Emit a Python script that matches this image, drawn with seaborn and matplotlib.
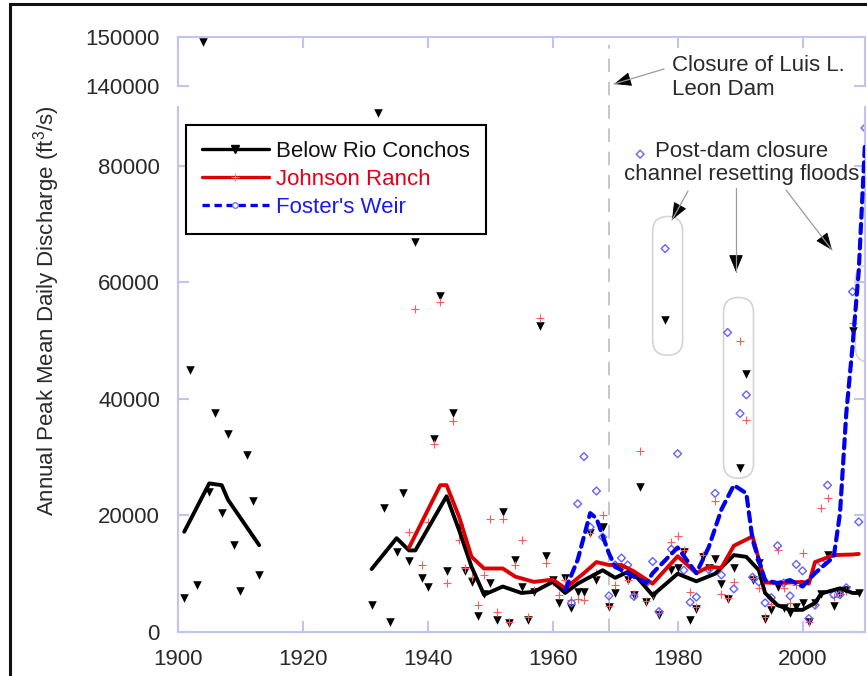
import numpy as np
import pandas as pd
import matplotlib
matplotlib.use("Agg")
import matplotlib.pyplot as plt
import seaborn as sns
from matplotlib.lines import Line2D
from matplotlib.patches import FancyBboxPatch, Rectangle, FancyArrowPatch

# ---------------- data ----------------
series_names = ["Below Rio Conchos", "Johnson Ranch", "Foster's Weir"]

conchos_years = [1901, 1902, 1903, 1904, 1905, 1906, 1907, 1908, 1909, 1910, 1911, 1912, 1913,
                 1931, 1932, 1933, 1934, 1935, 1936, 1937, 1938, 1939, 1940, 1941, 1942, 1943, 1944,
                 1945, 1946, 1947, 1948, 1949, 1950, 1951, 1952, 1953, 1954, 1955, 1956, 1957, 1958,
                 1959, 1960, 1961, 1962, 1963, 1964, 1965, 1966, 1967, 1968, 1969, 1970, 1971, 1972,
                 1973, 1974, 1975, 1976, 1977, 1978, 1979, 1980, 1981, 1982, 1983, 1984, 1985, 1986,
                 1987, 1988, 1989, 1990, 1991, 1992, 1993, 1994, 1995, 1996, 1997, 1998, 1999, 2000,
                 2001, 2002, 2003, 2004, 2005, 2006, 2007, 2008, 2009]
conchos_peaks = [5800, 45000, 8000, 149000, 24000, 37500, 20500, 34000, 15000, 7000, 30300, 22500, 9800,
                 4600, 89000, 21200, 1800, 13800, 23800, 12100, 67000, 9200, 7700, 33100, 57700, 10500, 37600,
                 17800, 10500, 8500, 2700, 6600, 8400, 2100, 20600, 1500, 12400, 7800, 2100, 6900, 52500,
                 13100, 9000, 4900, 9200, 4100, 6900, 6900, 17000, 9000, 18100, 4300, 6700, 10800, 8900,
                 6400, 24900, 5100, 6100, 2900, 53600, 10700, 10900, 13800, 2100, 3900, 12900, 11000, 12500,
                 8300, 5600, 10900, 28100, 44300, 8900, 11900, 2300, 3800, 7700, 4100, 3200, 4300, 5000,
                 1700, 4900, 6500, 13300, 4400, 6500, 7200, 51600, 6700]

johnson_years = [1937, 1938, 1939, 1940, 1941, 1942, 1943, 1944, 1945, 1946, 1947, 1948, 1949, 1950,
                 1951, 1952, 1953, 1954, 1955, 1956, 1957, 1958, 1959, 1960, 1961, 1962, 1963, 1964,
                 1965, 1966, 1967, 1968, 1969, 1970, 1971, 1972, 1973, 1974, 1975, 1976, 1977, 1979,
                 1980, 1981, 1982, 1983, 1984, 1985, 1986, 1987, 1988, 1989, 1990, 1991, 1992, 1993,
                 1994, 1995, 1996, 1997, 1998, 1999, 2000, 2001, 2002, 2003, 2004, 2005, 2006, 2007, 2008]
johnson_peaks = [17100, 55400, 11500, 18800, 32300, 56700, 8400, 36200, 15800, 11000, 9500, 4600, 9800, 19400,
                 3500, 19400, 1800, 11500, 15800, 2500, 7200, 53900, 11800, 8500, 6400, 9000, 5500, 5600,
                 5500, 17000, 10100, 20100, 4500, 8000, 10900, 9000, 6500, 31000, 5400, 6500, 3300, 15500,
                 16500, 14000, 6900, 4300, 13200, 11000, 22400, 6600, 5800, 8500, 49900, 36400, 9200, 7500,
                 2500, 4800, 14000, 7500, 5000, 8000, 13500, 1800, 4800, 21200, 23000, 6000, 6500, 7000, 53000]

foster_years = [1962, 1963, 1964, 1965, 1966, 1967, 1968, 1969, 1970, 1971, 1972, 1973, 1974, 1975,
                1976, 1977, 1978, 1979, 1980, 1981, 1982, 1983, 1985, 1986, 1987, 1988, 1989, 1990,
                1991, 1992, 1993, 1994, 1995, 1996, 1997, 1998, 1999, 2000, 2001, 2002, 2003, 2004,
                2005, 2006, 2007, 2008, 2009, 2010]
foster_peaks = [7200, 5000, 22000, 30100, 18000, 24200, 16300, 6200, 11500, 12700, 11500, 6100, 82000, 8400,
                12100, 3500, 65800, 14200, 30600, 10600, 5100, 6000, 10700, 23800, 9800, 51400, 7400, 37500,
                40700, 9400, 8600, 5000, 5900, 14800, 8400, 6200, 11600, 10500, 2300, 4600, 11900, 25200,
                6400, 6400, 7600, 58400, 18900, 86500]

# smoothed trend lines (vertices)
conchos_trend_a_years = [1901, 1905, 1907, 1908, 1913]
conchos_trend_a = [17200, 25500, 25200, 22700, 14900]
conchos_trend_b_years = [1931, 1935, 1937, 1938, 1943, 1945, 1947, 1949, 1952, 1955, 1957, 1960, 1962,
                         1964, 1968, 1970, 1972, 1973, 1976, 1980, 1983, 1986, 1989, 1991, 1993, 1994,
                         1996, 1998, 2000, 2002, 2003, 2006, 2008, 2009]
conchos_trend_b = [10800, 16100, 14000, 14000, 23300, 17500, 11200, 6400, 7800, 6700, 6900, 8600, 6700,
                   8300, 10600, 9300, 10300, 10000, 6300, 10000, 8700, 10000, 13200, 12900, 10600, 6700,
                   4600, 3800, 3800, 5000, 6600, 7500, 6700, 6700]
johnson_trend_years = [1937, 1942, 1943, 1945, 1947, 1949, 1952, 1954, 1957, 1960, 1962, 1965, 1967,
                       1969, 1971, 1973, 1976, 1980, 1983, 1985, 1987, 1989, 1992, 1994, 1996, 2000,
                       2001, 2002, 2005, 2008, 2009]
johnson_trend = [14500, 25200, 25200, 19800, 12900, 10900, 10900, 9500, 8600, 9000, 7500, 10100, 12000,
                 11500, 11500, 10400, 8300, 13000, 10100, 11200, 11000, 14800, 16400, 8500, 8400, 8600,
                 8300, 12000, 13200, 13300, 13400]
foster_trend_years = [1962, 1964, 1966, 1967, 1969, 1970, 1973, 1975, 1976, 1980, 1983, 1985, 1987,
                      1989, 1991, 1992, 1994, 1996, 1998, 2000, 2002, 2005, 2006, 2007, 2008, 2009, 2010]
foster_trend = [7200, 12400, 20400, 19500, 13500, 11200, 9500, 8400, 10100, 14500, 10100, 14600, 21000,
                25200, 23800, 15800, 8900, 8400, 8900, 7800, 10100, 12900, 20400, 37500, 49000, 62000, 84000]

x_ticks = [1900, 1920, 1940, 1960, 1980, 2000]
x_tick_labels = ["1900", "1920", "1940", "1960", "1980", "2000"]
y_ticks_low = [0, 20000, 40000, 60000, 80000]
y_tick_labels_low = ["0", "20000", "40000", "60000", "80000"]
y_ticks_high = [140000, 150000]
y_tick_labels_high = ["140000", "150000"]
dam_closure_year = 1969
y_label = "Annual Peak Mean Daily Discharge (ft$^3$/s)"

# ---------------- style ----------------
sns.set_theme(style="white")
plt.rcParams["font.family"] = ["Liberation Sans", "DejaVu Sans"]
plt.rcParams["mathtext.fontset"] = "custom"
plt.rcParams["mathtext.rm"] = "Liberation Sans"
plt.rcParams["mathtext.it"] = "Liberation Sans:italic"
plt.rcParams["mathtext.bf"] = "Liberation Sans:bold"

W, H = 867, 676
fig = plt.figure(figsize=(W / 100, H / 100), dpi=100)
fig.patch.set_facecolor("white")


def fx(px):
    return px / W


def fy(py):
    return 1 - py / H


X0, X1 = 178, 865
ax = fig.add_axes([fx(X0), fy(632), (X1 - X0) / W, (632 - 107) / H])
axt = fig.add_axes([fx(X0), fy(86), (X1 - X0) / W, (86 - 37) / H])

SP = "#c3c3f2"
BLACK = "#000000"
RED_LINE = "#dd0000"
RED_PT = "#ff5a5a"
BLUE_LINE = "#0000ee"
BLUE_PT = "#6363ff"
TXT = "#2a2a2a"

for a in (ax, axt):
    sns.scatterplot(x=conchos_years, y=conchos_peaks, marker="v", s=38, color=BLACK,
                    edgecolor=BLACK, linewidth=0, ax=a, zorder=2)
    sns.scatterplot(x=johnson_years, y=johnson_peaks, marker="+", s=40, color=RED_PT,
                    linewidth=0.8, ax=a, zorder=2)
    sns.scatterplot(x=foster_years, y=foster_peaks, marker="D", s=16, color=BLUE_PT,
                    facecolor="none", edgecolor=BLUE_PT, linewidth=1.0, ax=a, zorder=2)

sns.lineplot(x=conchos_trend_a_years, y=conchos_trend_a, color=BLACK, linewidth=2.8,
             errorbar=None, ax=ax, zorder=3)
sns.lineplot(x=conchos_trend_b_years, y=conchos_trend_b, color=BLACK, linewidth=2.8,
             errorbar=None, ax=ax, zorder=3)
sns.lineplot(x=johnson_trend_years, y=johnson_trend, color=RED_LINE, linewidth=2.8,
             errorbar=None, ax=ax, zorder=3)
sns.lineplot(x=foster_trend_years, y=foster_trend, color=BLUE_LINE, linewidth=3.0,
             linestyle=(0, (2.2, 1.5)), dash_capstyle="round", errorbar=None, ax=ax, zorder=4)

for a in (ax, axt):
    a.patch.set_visible(False)
    a.set_xlim(1900, 2010)
    a.set_xlabel("")
    a.set_ylabel("")
    a.grid(False)
    for s in a.spines.values():
        s.set_color(SP)
        s.set_linewidth(1.5)
    a.tick_params(axis="both", direction="in", length=8, width=1.5, color=SP,
                  labelsize=16, labelcolor=TXT)

ax.spines["top"].set_visible(False)
axt.spines["bottom"].set_visible(False)
ax.set_ylim(0, 90100)
axt.set_ylim(140000, 150000)

ax.set_xticks(x_ticks)
ax.set_xticklabels(x_tick_labels)
ax.tick_params(axis="x", bottom=True, top=False, pad=12)
ax.set_yticks(y_ticks_low)
ax.set_yticklabels(y_tick_labels_low)
ax.tick_params(axis="y", left=True, right=True, labelright=False, pad=13)

axt.set_xticks(x_ticks)
axt.tick_params(axis="x", top=True, bottom=False, labelbottom=False, labeltop=False)
axt.set_yticks(y_ticks_high)
axt.set_yticklabels(y_tick_labels_high)
axt.tick_params(axis="y", left=True, right=True, labelright=False, pad=13)

# dam closure line spanning both panels
ax.axvline(dam_closure_year, ymin=0, ymax=(632 - 45) / (632 - 107), clip_on=False,
           color="#c6c6c6", lw=1.4, linestyle=(0, (7, 5)), zorder=1)

# capsules around the post-dam floods
yr_per_px = 110 / (X1 - X0)
val_per_px = 90100 / (632 - 107)
aspect = val_per_px / yr_per_px
for (cx, cy, cw, ch) in [(1976.0, 47500, 4.8, 23800), (1987.35, 26400, 4.8, 31000),
                         (2008.45, 46300, 4.8, 16700)]:
    ax.add_patch(FancyBboxPatch((cx, cy), cw, ch,
                                boxstyle=f"round,pad=0,rounding_size={cw / 2}",
                                mutation_aspect=aspect, fill=False, ec="#d4d4d4", lw=1.2,
                                zorder=1, clip_on=True))

# texts
fig.text(fx(47), fy(311), y_label, rotation=90, ha="center", va="center",
         fontsize=16, color=TXT)
fig.text(fx(672), fy(77.5), "Closure of Luis L.\nLeon Dam", ha="left", va="center",
         fontsize=16, color=TXT, linespacing=1.15)
fig.text(fx(742), fy(163), "Post-dam closure\nchannel resetting floods", ha="center",
         va="center", multialignment="center", fontsize=16, color=TXT, linespacing=1.1)


def arrow(x0, y0, x1, y1):
    fig.add_artist(Line2D([fx(x0), fx(x1)], [fy(y0), fy(y1)], transform=fig.transFigure,
                          color="#9a9a9a", lw=0.9))
    d = np.hypot(x1 - x0, y1 - y0)
    ux, uy = (x1 - x0) / d, (y1 - y0) / d
    hx, hy = x1 - ux * 16, y1 - uy * 16
    fig.add_artist(FancyArrowPatch((fx(hx), fy(hy)), (fx(x1), fy(y1)),
                                   transform=fig.transFigure,
                                   arrowstyle="-|>,head_length=11,head_width=4.5",
                                   mutation_scale=1, color="black", lw=0.6,
                                   shrinkA=0, shrinkB=0))


arrow(664, 69, 614, 84)
arrow(688, 191, 672, 220)
arrow(736, 188, 736, 272)
arrow(786, 190, 832, 250)

# legend
handles = [
    Line2D([], [], color=BLACK, lw=2.4, marker="v", ms=5.5, mfc=BLACK, mec=BLACK),
    Line2D([], [], color=RED_LINE, lw=2.4, marker="+", ms=6, mec="#ff8080", mew=0.8),
    Line2D([], [], color=BLUE_LINE, lw=2.4, ls=(0, (2.2, 1.4)), marker="o", ms=4,
           mfc="white", mec="#7777ff"),
]
leg = ax.legend(handles, series_names, loc="upper left", bbox_to_anchor=(fx(186), fy(125)),
                bbox_transform=fig.transFigure, borderaxespad=0, frameon=True, fancybox=False,
                fontsize=16, handlelength=3.0, handletextpad=0.32, borderpad=0.72,
                labelspacing=0.31, framealpha=1, edgecolor="black")
leg.get_frame().set_linewidth(1.5)
for t, c in zip(leg.get_texts(), ["#111111", "#e0001a", "#1a1aee"]):
    t.set_color(c)

# outer frame of the original figure
fig.add_artist(Rectangle((fx(10), -0.05), 1.2, fy(4) + 0.05, transform=fig.transFigure,
                         fill=False, ec="#111111", lw=2.2))

fig.savefig("out.png", dpi=100)
